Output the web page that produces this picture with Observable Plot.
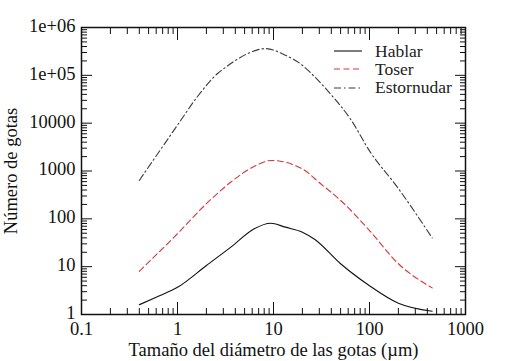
<!DOCTYPE html>
<html>
<head>
<meta charset="utf-8">
<script src="https://cdn.jsdelivr.net/npm/d3@7"></script>
<script src="https://cdn.jsdelivr.net/npm/@observablehq/plot@0.6"></script>
<style>
  html, body { margin: 0; padding: 0; background: #fff; }
  #wrap { position: relative; width: 505px; height: 361px; font-family: 'Liberation Serif'; }
  #legend { position: absolute; left: 334px; top: 42px; font-size: 17.5px; color: #222; }
  #legend .row { display: flex; align-items: center; height: 18.3px; }
  #legend svg { width: 28px; height: 18px; margin-right: 13px; }
</style>
</head>
<body>
<div id="wrap"></div>
<script>
// ---- data ----
const seriesNames = ["Hablar", "Toser", "Estornudar"];
const hablarD = [0.4, 0.6, 1, 2, 3.6, 6.3, 9.3, 13.3, 20, 27, 50, 100, 200, 450];
const hablarN = [1.6, 2.3, 3.7, 10.6, 25.6, 62, 81, 67, 52.7, 37, 11.5, 4.0, 1.72, 1.17];
const toserD = [0.4, 1, 2, 3.6, 6.2, 9.5, 20, 31, 50, 100, 200, 450];
const toserN = [8, 49, 207, 588, 1230, 1660, 1100, 540, 243, 57, 11.5, 3.6];
const estorD = [0.4, 1, 1.6, 2.6, 3.2, 5.2, 8.2, 13.3, 20, 27, 39, 63, 102, 195, 450];
const estorN = [635, 9100, 35100, 108000, 149000, 275000, 362000, 263000, 162000, 92000, 41400, 12400, 2480, 460, 40];

const xMajor = [0.1, 1, 10, 100, 1000];
const xMajorLabels = ["0.1", "1", "10", "100", "1000"];
const yMajor = [1, 10, 100, 1000, 10000, 1e5, 1e6];
const yMajorLabels = ["1", "10", "100", "1000", "10000", "1e+05", "1e+06"];
const mult = [2, 3, 4, 5, 6, 7, 8, 9];
const xMinor = [0.1, 1, 10, 100].flatMap(e => mult.map(m => m * e));
const yMinor = [1, 10, 100, 1000, 1e4, 1e5].flatMap(e => mult.map(m => m * e));

const styles = {
  Hablar: {stroke: "#111", dash: null},
  Toser: {stroke: "#d9353a", dash: "6,3.5"},
  Estornudar: {stroke: "#3a3a3a", dash: "7,3,1.5,3"}
};

const mk = (name, D, N) => D.map((d, i) => ({s: name, d, n: N[i]}));
const rows = {
  Hablar: mk("Hablar", hablarD, hablarN),
  Toser: mk("Toser", toserD, toserN),
  Estornudar: mk("Estornudar", estorD, estorN)
};

const FF = "Liberation Serif";
const xFmt = d => xMajorLabels[xMajor.indexOf(d)];
const yFmt = d => yMajorLabels[yMajor.indexOf(d)];
const blank = () => "";

const chart = Plot.plot({
  width: 505,
  height: 361,
  marginLeft: 81,
  marginRight: 40,
  marginTop: 27,
  marginBottom: 47,
  style: {fontFamily: FF, fontSize: "18.5px", color: "#111", background: "#fff"},
  x: {type: "log", domain: [0.1, 1000]},
  y: {type: "log", domain: [1, 1e6]},
  marks: [
    // minor ticks (inward)
    Plot.axisX(xMinor, {anchor: "bottom", tickSize: -6, tickFormat: blank, label: null}),
    Plot.axisX(xMinor, {anchor: "top", tickSize: -6, tickFormat: blank, label: null}),
    Plot.axisY(yMinor, {anchor: "left", tickSize: -6, tickFormat: blank, label: null}),
    Plot.axisY(yMinor, {anchor: "right", tickSize: -6, tickFormat: blank, label: null}),
    // major ticks (inward)
    Plot.axisX(xMajor, {anchor: "bottom", tickSize: -12, tickFormat: blank, label: null}),
    Plot.axisX(xMajor, {anchor: "top", tickSize: -12, tickFormat: blank, label: null}),
    Plot.axisY(yMajor, {anchor: "left", tickSize: -11, tickFormat: blank, label: null}),
    Plot.axisY(yMajor, {anchor: "right", tickSize: -11, tickFormat: blank, label: null}),
    // labels
    Plot.axisX(xMajor, {anchor: "bottom", tickSize: 0, tickPadding: 7, tickFormat: xFmt,
      fontSize: 18.5, fontFamily: FF,
      label: "Tamaño del diámetro de las gotas (µm)", labelAnchor: "center", labelOffset: 41, labelArrow: "none"}),
    Plot.axisY(yMajor, {anchor: "left", tickSize: 0, tickPadding: 6, tickFormat: yFmt, dy: -1.5,
      fontSize: 18.5, fontFamily: FF,
      label: "Número de gotas", labelAnchor: "center", labelOffset: 78, labelArrow: "none"}),
    Plot.frame({stroke: "#111", strokeWidth: 1.5}),
    ...seriesNames.map(name => Plot.line(rows[name], {
      x: "d", y: "n", curve: "monotone-x",
      stroke: styles[name].stroke, strokeWidth: 1.1,
      strokeDasharray: styles[name].dash
    }))
  ]
});

const wrap = document.getElementById("wrap");
wrap.appendChild(chart);

// legend
const legend = document.createElement("div");
legend.id = "legend";
for (const name of seriesNames) {
  const st = styles[name];
  const row = document.createElement("div");
  row.className = "row";
  row.innerHTML = `<svg viewBox="0 0 28 18"><line x1="0" x2="28" y1="9" y2="9" stroke="${st.stroke}" stroke-width="1.1" ${st.dash ? `stroke-dasharray="${st.dash}"` : ""}/></svg><span style="font-family:'Liberation Serif'">${name}</span>`;
  legend.appendChild(row);
}
wrap.appendChild(legend);
</script>
</body>
</html>
